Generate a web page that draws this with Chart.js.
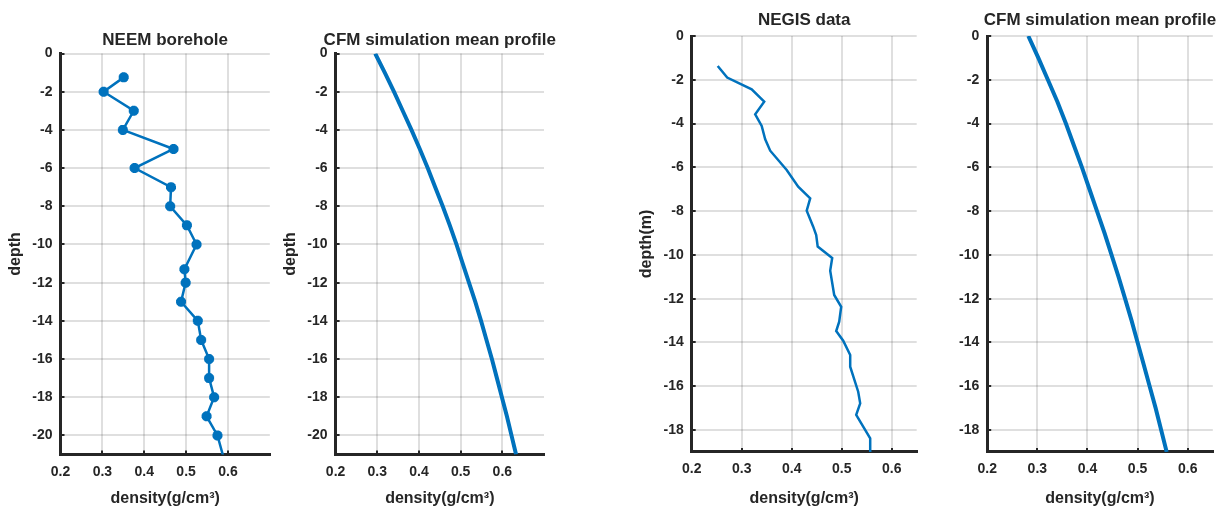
<!DOCTYPE html>
<html><head><meta charset="utf-8">
<script src="https://cdn.jsdelivr.net/npm/chart.js@4/dist/chart.umd.min.js"></script>
<style>
html,body{margin:0;padding:0;background:#fff;width:1226px;height:508px;overflow:hidden}
canvas{position:absolute;left:0;top:0}
</style></head>
<body>
<canvas id="c1" width="1226" height="508"></canvas>
<canvas id="c2" width="1226" height="508"></canvas>
<canvas id="c3" width="1226" height="508"></canvas>
<canvas id="c4" width="1226" height="508"></canvas>
<script>
// ---------- data ----------
const neemDepth   = [-1.25, -2, -3, -4, -5, -6, -7, -8, -9, -10, -11.3, -12, -13, -14, -15, -16, -17, -18, -19, -20, -22];
const neemDensity = [0.351, 0.303, 0.375, 0.349, 0.470, 0.377, 0.464, 0.462, 0.502, 0.525, 0.496, 0.499, 0.488, 0.528, 0.536, 0.555, 0.555, 0.567, 0.549, 0.575, 0.600];

const cfmNeemDepth   = [0, -1, -2, -3, -4, -5, -6, -7, -8, -9, -10, -11, -12, -13, -14, -15, -16, -17, -18, -19, -20, -21];
const cfmNeemDensity = [0.295, 0.318, 0.340, 0.361, 0.382, 0.402, 0.421, 0.439, 0.457, 0.474, 0.490, 0.505, 0.520, 0.535, 0.549, 0.562, 0.575, 0.587, 0.599, 0.611, 0.622, 0.633];

const negisDepth   = [-1.37, -1.9, -2.44, -3.0, -3.58, -4.11, -4.72, -5.24, -6.12, -6.88, -7.42, -7.98, -8.71, -9.09, -9.62, -10.14, -10.72, -11.83, -12.37, -13.05, -13.48, -13.92, -14.57, -15.11, -16.25, -16.78, -17.31, -18.38, -19.0];
const negisDensity = [0.252, 0.271, 0.320, 0.345, 0.327, 0.340, 0.347, 0.357, 0.390, 0.413, 0.437, 0.430, 0.443, 0.449, 0.452, 0.481, 0.477, 0.485, 0.499, 0.495, 0.489, 0.503, 0.517, 0.517, 0.533, 0.537, 0.529, 0.557, 0.557];

const cfmNegisDepth   = [0, -1, -2, -3, -4, -5, -6, -7, -8, -9, -10, -11, -12, -13, -14, -15, -16, -17, -18, -19];
const cfmNegisDensity = [0.282, 0.302, 0.321, 0.340, 0.357, 0.373, 0.389, 0.404, 0.419, 0.434, 0.448, 0.462, 0.475, 0.488, 0.500, 0.512, 0.524, 0.536, 0.547, 0.558];

const xTicks      = [0.2, 0.3, 0.4, 0.5, 0.6];
const xTickLabels = ['0.2', '0.3', '0.4', '0.5', '0.6'];
const yTicksNeem  = [0, -2, -4, -6, -8, -10, -12, -14, -16, -18, -20];
const yTicksNegis = [0, -2, -4, -6, -8, -10, -12, -14, -16, -18];

const titles  = ['NEEM borehole', 'CFM simulation mean profile', 'NEGIS data', 'CFM simulation mean profile'];
const yLabels = ['depth', 'depth', 'depth(m)', ''];
const xLabel  = 'density(g/cm³)';

// ---------- style / layout ----------
const FONT = "'Liberation Sans', Arial, Helvetica, sans-serif";
const INK = '#262626';
const BLUE = '#0072BD';
const GRID = 'rgba(38,38,38,0.15)';
const W = 1226, H = 508;

function pts(xs, ys) { return xs.map((x, i) => ({x: x, y: ys[i]})); }

// let the (centred) title overflow the plot width like the original
const widenTitle = {
  id: 'widenTitle',
  afterLayout(chart) {
    const tb = chart.titleBlock;
    if (tb) { tb.left -= 60; tb.right += 60; tb.width = tb.right - tb.left; }
  }
};

function panel(id, box, xmax, ymin, yTicks, title, ylabel, dataset) {
  new Chart(document.getElementById(id), {
    type: 'scatter',
    data: {datasets: [dataset]},
    plugins: [widenTitle],
    options: {
      responsive: false, animation: false, devicePixelRatio: 1,
      layout: {padding: {left: box.left - 60, right: W - box.right, top: box.titleTop, bottom: 0}},
      plugins: {
        legend: {display: false}, tooltip: {enabled: false},
        title: {display: true, text: title, fullSize: false, color: INK,
          font: {family: FONT, size: 17, weight: 'bold', lineHeight: 1},
          padding: {top: 0, bottom: box.top - box.titleTop - 17}}
      },
      scales: {
        x: {
          type: 'linear', position: 'bottom', min: 0.2, max: xmax,
          afterBuildTicks: s => { s.ticks = xTicks.map(v => ({value: v})); },
          afterFit: s => { s.height = H - box.bottom; },
          ticks: {padding: 13, color: INK, maxRotation: 0, autoSkip: false,
            font: {family: FONT, size: 14, weight: 'bold'},
            callback: (v, i) => xTickLabels[i]},
          grid: {color: GRID, lineWidth: 2, tickLength: -4, tickColor: INK, tickWidth: 2},
          border: {display: true, color: INK, width: 3},
          title: {display: true, text: xLabel, color: INK,
            font: {family: FONT, size: 16, weight: 'bold', lineHeight: 1},
            padding: {top: 0, bottom: 1.5}}
        },
        y: {
          type: 'linear', position: 'left', min: ymin, max: 0,
          afterBuildTicks: s => { s.ticks = yTicks.map(v => ({value: v})); },
          afterFit: s => { s.width = 60; },
          ticks: {padding: 12, color: INK, autoSkip: false,
            font: {family: FONT, size: 14, weight: 'bold'},
            callback: (v, i) => String(yTicks[i])},
          grid: {color: GRID, lineWidth: 2, tickLength: -4, tickColor: INK, tickWidth: 2},
          border: {display: true, color: INK, width: 3},
          title: {display: ylabel !== '', text: ylabel, color: INK,
            font: {family: FONT, size: 16, weight: 'bold', lineHeight: 1},
            padding: {top: 7, bottom: 0}}
        }
      }
    }
  });
}

panel('c1', {left: 60.5, right: 269.8, top: 53.5, bottom: 454.5, titleTop: 31.5}, 0.7, -21, yTicksNeem, titles[0], yLabels[0], {
  data: pts(neemDensity, neemDepth), showLine: true, borderColor: BLUE, backgroundColor: BLUE,
  borderWidth: 2.5, pointStyle: 'star', pointRadius: 5, pointBorderWidth: 3.5,
  pointBorderColor: BLUE, pointBackgroundColor: BLUE
});
panel('c2', {left: 335.6, right: 544, top: 53.5, bottom: 454.5, titleTop: 31.5}, 0.7, -21, yTicksNeem, titles[1], yLabels[1], {
  data: pts(cfmNeemDensity, cfmNeemDepth), showLine: true, borderColor: BLUE,
  borderWidth: 4, pointRadius: 0
});
panel('c3', {left: 691.7, right: 916.7, top: 36, bottom: 451.9, titleTop: 11.5}, 0.65, -19, yTicksNegis, titles[2], yLabels[2], {
  data: pts(negisDensity, negisDepth), showLine: true, borderColor: BLUE,
  borderWidth: 2.5, pointRadius: 0
});
panel('c4', {left: 987.2, right: 1212.8, top: 36, bottom: 451.9, titleTop: 11.5}, 0.65, -19, yTicksNegis, titles[3], yLabels[3], {
  data: pts(cfmNegisDensity, cfmNegisDepth), showLine: true, borderColor: BLUE,
  borderWidth: 4, pointRadius: 0
});
</script>
</body></html>
